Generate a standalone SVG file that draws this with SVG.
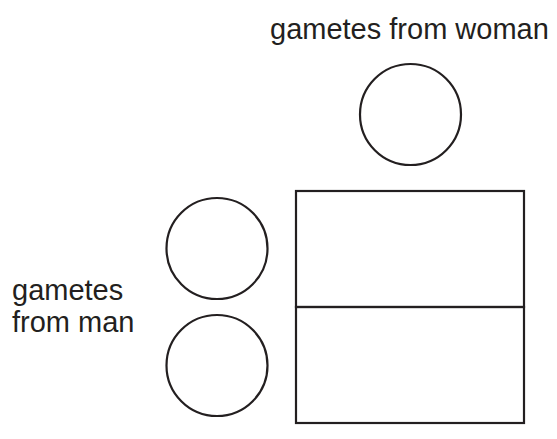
<svg xmlns="http://www.w3.org/2000/svg" width="557" height="439" viewBox="0 0 557 439">
<style>
.shape{fill:none;stroke:#231f20;stroke-width:2.2}
.lbl{font-family:"Liberation Sans",Arial,sans-serif;font-size:29px;fill:#231f20}
</style>
<rect width="557" height="439" fill="#fff"/>
<g id="label-woman"><text class="lbl" x="270" y="39">gametes from woman</text></g>
<g id="label-man"><text class="lbl" x="12" y="300">gametes</text><text class="lbl" x="12" y="332">from man</text></g>
<g id="gamete-woman"><circle class="shape" cx="410.5" cy="114.5" r="50.5"/></g>
<g id="gamete-man-1"><circle class="shape" cx="217" cy="248.5" r="50.5"/></g>
<g id="gamete-man-2"><circle class="shape" cx="217" cy="365.5" r="50.5"/></g>
<g id="punnett-top"><rect class="shape" x="296" y="191" width="228" height="116"/></g>
<g id="punnett-bottom"><rect class="shape" x="296" y="307" width="228" height="116"/></g>
<g id="connectors"></g>
</svg>
